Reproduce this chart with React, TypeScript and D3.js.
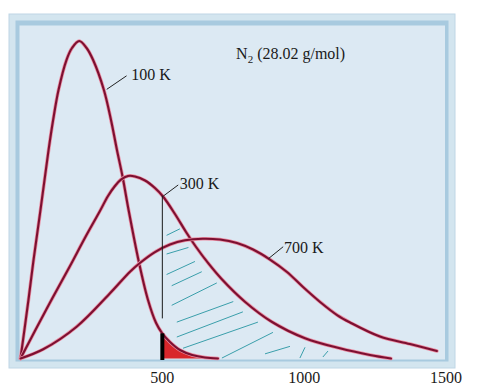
import * as d3 from 'd3';

// speed (m/s) vs. fraction of molecules (arbitrary units, x 1e-3 s/m)
const CURVE_100K: [number, number][] = [
  [0, 0], [28, 0.627], [46, 1.056], [70.5, 1.592], [99, 2.235], [115, 2.556],
  [134, 2.878], [162, 3.199], [181.5, 3.328], [207, 3.403], [233, 3.328], [256, 3.199],
  [294, 2.878], [319, 2.556], [340, 2.235], [360, 1.946], [381, 1.592], [418, 1.024],
  [449.5, 0.627], [478, 0.38], [499, 0.273], [527, 0.177], [562, 0.091], [605, 0.038],
  [650, 0.011], [696, 0]
];

const CURVE_300K: [number, number][] = [
  [0, 0], [90, 0.52], [174.5, 0.991], [227, 1.292], [280, 1.581], [308.5, 1.742],
  [333, 1.849], [354, 1.918], [379, 1.956], [403.5, 1.951], [439, 1.908], [474, 1.827],
  [503, 1.734], [544.5, 1.549], [583.5, 1.356], [619, 1.195], [661, 1.024], [709, 0.852],
  [791, 0.609], [885.5, 0.394], [1003, 0.217], [1126, 0.109], [1232, 0.038], [1306, 0]
];

const CURVE_700K: [number, number][] = [
  [0, 0], [80, 0.099], [198, 0.341], [315.5, 0.699], [386, 0.93], [421, 1.024],
  [474, 1.141], [527, 1.222], [580, 1.267], [643, 1.284], [703, 1.275], [763, 1.238],
  [820, 1.168], [879.5, 1.061], [939.5, 0.927], [996, 0.766], [1056, 0.606],
  [1116, 0.466], [1162, 0.386], [1267, 0.236], [1373, 0.155], [1468, 0.08]
];

// hand-drawn hatching: [v1, f1, v2, f2]
const HATCH: [number, number, number, number][] = [
  [515, 1.32, 562, 1.39],
  [515, 1.12, 592, 1.19],
  [515, 0.9, 615, 1.04],
  [533, 0.78, 639, 0.93],
  [533, 0.57, 692, 0.81],
  [551, 0.39, 750, 0.61],
  [551, 0.23, 784, 0.5],
  [573, 0.11, 837, 0.39],
  [710, 0.005, 890, 0.28],
  [862, 0.05, 950, 0.13],
  [985, 0.005, 1003, 0.12],
  [1066, 0.016, 1084, 0.08]
];

const THRESHOLD = 500;
const GUIDE_BOTTOM = 0.43;

const LABELS = [
  { text: '100 K', v: 390, f: 2.98, lead: [304, 2.885, 374, 3.03] },
  { text: '300 K', v: 561, f: 1.82, lead: [503, 1.74, 556, 1.86] },
  { text: '700 K', v: 929, f: 1.136, lead: [874, 1.07, 926, 1.198] }
];

const TICKS = [500, 1000, 1500];

const x = d3.scaleLinear().domain([0, 1500]).range([20.5, 446]);
const y = d3.scaleLinear().domain([0, 3.5]).range([358.5, 31.95]);

const smooth = d3.curveCatmullRom.alpha(0.5);

const line = d3
  .line<[number, number]>()
  .x((d) => x(d[0]))
  .y((d) => y(d[1]))
  .curve(smooth);

const area = d3
  .area<[number, number]>()
  .x((d) => x(d[0]))
  .y0(y(0))
  .y1((d) => y(d[1]))
  .curve(smooth);

// linear lookup on a curve
const valueAt = (curve: [number, number][], v: number) => {
  const i = d3.bisector((d: [number, number]) => d[0]).left(curve, v);
  if (i <= 0) return curve[0][1];
  if (i >= curve.length) return curve[curve.length - 1][1];
  const [a, b] = [curve[i - 1], curve[i]];
  return a[1] + ((b[1] - a[1]) * (v - a[0])) / (b[0] - a[0]);
};

const CURVES = [CURVE_100K, CURVE_300K, CURVE_700K];

export default function App() {
  const font = "'Liberation Serif', 'Times New Roman', serif";
  const xt = x(THRESHOLD);
  return (
    <svg
      width={503}
      height={389}
      style={{ position: 'absolute', left: 0, top: 0, background: '#fff' }}
      fontFamily={font}
    >
      <defs>
        <clipPath id="right-of-500">
          <rect x={xt} y={0} width={503 - xt} height={389} />
        </clipPath>
      </defs>

      {/* frame */}
      <rect x={9} y={14} width={446} height={354} fill="#d3e5ef" stroke="#bfd6e5" />
      <rect x={15.5} y={20.5} width={433} height={341} fill="#a8cadf" />
      <rect x={19.5} y={25.5} width={425.5} height={334} fill="#dce9f3" />

      {/* red tail of 100 K above threshold */}
      <path d={area(CURVE_100K) ?? ''} fill="#d8262b" clipPath="url(#right-of-500)" />

      {/* hatching */}
      {HATCH.map((h, i) => (
        <line
          key={i}
          x1={x(h[0])}
          y1={y(h[1])}
          x2={x(h[2])}
          y2={y(h[3])}
          stroke="#3a9fab"
          strokeWidth={1}
        />
      ))}

      {/* curves */}
      {CURVES.map((c, i) => (
        <g key={i} fill="none" strokeLinecap="round">
          <path d={line(c) ?? ''} stroke="#ea8ea3" strokeWidth={3.6} />
          <path d={line(c) ?? ''} stroke="#7c1031" strokeWidth={2.1} />
        </g>
      ))}

      {/* threshold guide */}
      <line
        x1={xt}
        x2={xt}
        y1={y(valueAt(CURVE_300K, THRESHOLD))}
        y2={y(GUIDE_BOTTOM)}
        stroke="#1a1a1a"
        strokeWidth={1}
      />
      <line
        x1={xt}
        x2={xt}
        y1={y(0) + 1.5}
        y2={y(valueAt(CURVE_100K, THRESHOLD))}
        stroke="#000"
        strokeWidth={4}
      />

      {/* labels */}
      {LABELS.map((l) => (
        <g key={l.text}>
          <line
            x1={x(l.lead[0])}
            y1={y(l.lead[1])}
            x2={x(l.lead[2])}
            y2={y(l.lead[3])}
            stroke="#222"
            strokeWidth={1}
          />
          <text x={x(l.v)} y={y(l.f)} fontSize={16} fill="#1a1a1a">
            {l.text}
          </text>
        </g>
      ))}

      <text x={x(760)} y={y(3.205)} fontSize={16} fill="#1a1a1a">
        N
        <tspan fontSize={11} dy={4}>2</tspan>
        <tspan dy={-4}> (28.02 g/mol)</tspan>
      </text>

      {/* x tick labels */}
      {TICKS.map((t) => (
        <text key={t} x={x(t)} y={383} fontSize={16} textAnchor="middle" fill="#1a1a1a">
          {t}
        </text>
      ))}
    </svg>
  );
}
